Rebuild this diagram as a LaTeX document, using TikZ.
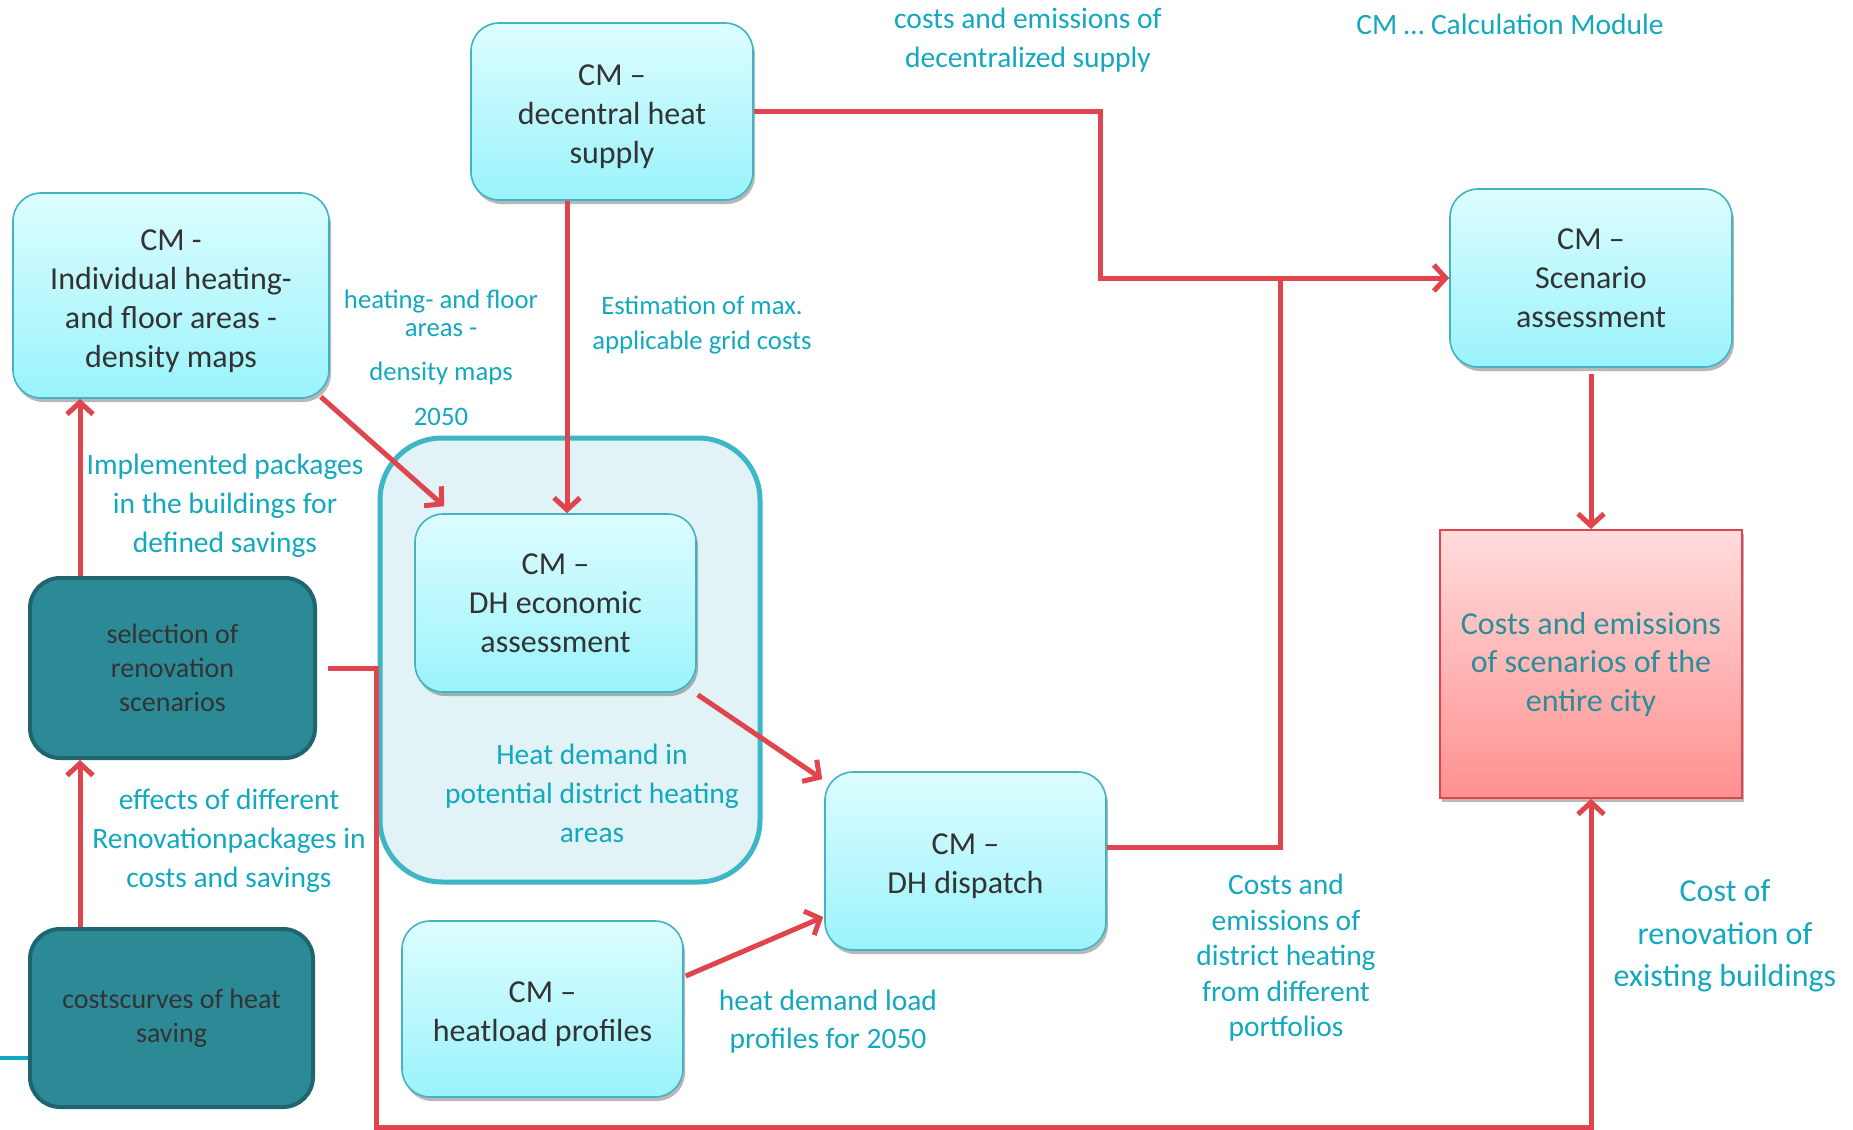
\documentclass[tikz,border=0pt]{standalone}
\usepackage{fontspec}
\setmainfont{Carlito}
\usetikzlibrary{arrows.meta,calc,shadows}

\definecolor{boxtop}{HTML}{DDFDFF}
\definecolor{boxbot}{HTML}{9AF3FB}
\definecolor{boxline}{HTML}{42B3C2}
\definecolor{boxtext}{HTML}{333333}
\definecolor{lbl}{HTML}{12A8BD}
\definecolor{flow}{HTML}{E0444C}
\definecolor{darkfill}{HTML}{2C8A96}
\definecolor{darkline}{HTML}{1E6570}
\definecolor{areafill}{HTML}{E1F3F6}
\definecolor{arealine}{HTML}{3DB6C6}
\definecolor{citytop}{HTML}{FFDCDC}
\definecolor{citybot}{HTML}{FF9090}
\definecolor{citytext}{HTML}{2A8F99}

% taller first line, sets the module texts a little lower in their boxes
\newcommand\firstlinegap{\rule{0pt}{32pt}}

\tikzset{
  softshadow/.style={drop shadow={shadow xshift=2pt,shadow yshift=-4pt,opacity=0.28,fill=black}},
  cmbox/.style={rectangle,rounded corners=28pt,draw=boxline,line width=1.6pt,
    top color=boxtop,bottom color=boxbot,softshadow,text=boxtext,align=center,
    font=\fontsize{32}{39}\selectfont,inner sep=0pt},
  darkbox/.style={rectangle,rounded corners=30pt,draw=darkline,line width=4pt,
    fill=darkfill,text=boxtext,align=center,font=\fontsize{28}{34}\selectfont,inner sep=0pt},
  areabox/.style={rectangle,rounded corners=62pt,draw=arealine,line width=5pt,
    fill=areafill,inner sep=0pt},
  citybox/.style={rectangle,draw=flow,line width=1.8pt,top color=citytop,
    bottom color=citybot,softshadow,text=citytext,align=center,
    font=\fontsize{32}{38.5}\selectfont,inner sep=0pt},
  lab/.style={text=lbl,align=center,font=\fontsize{29.5}{39}\selectfont,inner sep=0pt},
  smalllab/.style={text=lbl,align=center,font=\fontsize{26.7}{28}\selectfont,inner sep=0pt},
  flowline/.style={draw=flow,line width=5pt},
  flowarrow/.style={flowline,-{Straight Barb[length=12pt,width=26pt]}},
}

\begin{document}
\begin{tikzpicture}[x=1pt,y=-1pt]
\useasboundingbox (0,0) rectangle (1853,1130);

% grouping area around the economic assessment
\node[areabox,minimum width=380pt,minimum height=444pt] (area) at (570,660) {};

% calculation modules
\node[cmbox,minimum width=316pt,minimum height=205pt] (ind) at (171,295.5)
  {\firstlinegap CM -\\Individual heating-\\and floor areas -\\density maps};
\node[cmbox,minimum width=282pt,minimum height=177pt] (dec) at (612,111.5)
  {\firstlinegap CM –\\decentral heat\\supply};
\node[cmbox,minimum width=282pt,minimum height=178pt] (scen) at (1591,278)
  {CM –\\Scenario\\assessment};
\node[cmbox,minimum width=281pt,minimum height=178pt] (ec) at (555.5,603)
  {CM –\\DH economic\\assessment};
\node[cmbox,minimum width=281pt,minimum height=178pt] (disp) at (965.5,861)
  {\firstlinegap CM –\\DH dispatch};
\node[cmbox,minimum width=281pt,minimum height=176pt] (heat) at (542.5,1009)
  {\firstlinegap CM –\\heatload profiles};

% renovation inputs
\node[darkbox,minimum width=285pt,minimum height=180pt] (sel) at (172.5,668)
  {selection of\\renovation\\scenarios};
\node[darkbox,minimum width=283pt,minimum height=178pt] (cost) at (171.5,1018)
  {costscurves of heat\\saving};

% result
\node[citybox,minimum width=302pt,minimum height=268pt] (city) at (1591,664)
  {Costs and emissions\\of scenarios of the\\entire city};

% helper coordinates for routing
\coordinate (j1) at (1100,278);
\coordinate (j2) at (1280,278);
\coordinate (vx) at (567,0);
\coordinate (ux) at (80,0);
\coordinate (lb) at (376,1127);
\coordinate (tl) at (0,1058);

% connectors
\draw[flowarrow] (dec.east) -| (j1) -- (scen.west);
\draw[flowline] ($(disp.east)+(0,-14)$) -| (j2);
\draw[flowarrow] (scen.south) ++(0,6) -- (city.north);
\draw[flowarrow] (dec.south -| vx) -- (ec.north -| vx);
\draw[flowarrow] ($(ind.south east)+(-9,-2)$) -- ($(ec.north west)+(30,-7)$);
\draw[flowarrow] ($(ec.south east)+(1,2)$) -- ($(disp.north west)+(-2,8)$);
\draw[flowarrow] ($(heat.east)+(2,-33)$) -- ($(disp.west)+(-1,56)$);
\draw[flowarrow] ($(sel.east)+(11,0)$) -| (lb) -| (city.south);
\draw[flowarrow] (cost.north -| ux) -- (sel.south -| ux);
\draw[flowarrow] (sel.north -| ux) -- (ind.south -| ux);
\draw[draw=lbl,line width=4pt] (tl) -- (tl -| cost.west);

% labels
\node[lab] (l1) at (1028,40) {costs and emissions of\\decentralized supply};
\node[lab] (l2) at (1510,24) {CM … Calculation Module};
\node[smalllab] (l3) at (441,313) {heating- and floor\\areas -};
\node[smalllab] (l4) at (441,373) {density maps};
\node[smalllab] (l5) at (441,417) {2050};
\node[lab,font=\fontsize{26.7}{35}\selectfont] (l6) at (702,325) {Estimation of max.\\applicable grid costs};
\node[lab] (l7) at (225,506) {Implemented packages\\in the buildings for\\defined savings};
\node[lab] (l8) at (229,841) {effects of different\\Renovationpackages in\\costs and savings};
\node[lab] (l9) at (592,793) {Heat demand in\\potential district heating\\areas};
\node[lab,font=\fontsize{29.5}{38}\selectfont] (l10) at (828,1022) {heat demand load\\profiles for 2050};
\node[lab,font=\fontsize{29.5}{35.5}\selectfont] (l11) at (1286,958) {Costs and\\emissions of\\district heating\\from different\\portfolios};
\node[lab,font=\fontsize{32}{42.5}\selectfont] (l12) at (1725,936) {Cost of\\renovation of\\existing buildings};
\end{tikzpicture}
\end{document}
